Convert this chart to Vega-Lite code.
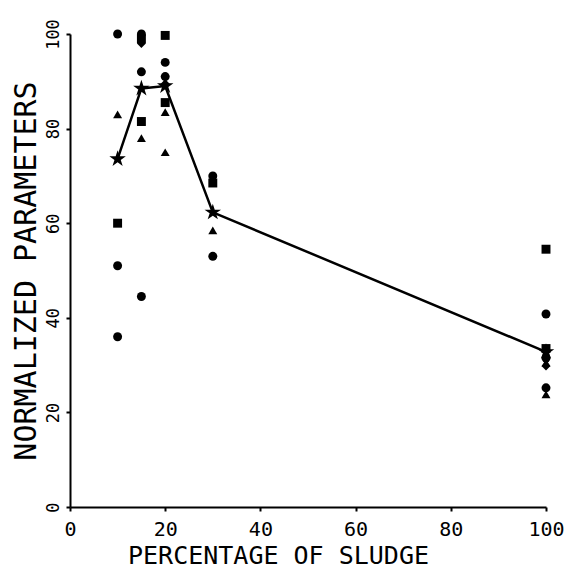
{
  "$schema": "https://vega.github.io/schema/vega-lite/v6.json",
  "width": 476,
  "height": 473,
  "autosize": "none",
  "padding": {"left": 70, "top": 34, "right": 31, "bottom": 61},
  "background": "white",
  "config": {
    "view": {"stroke": null},
    "font": "DejaVu Sans Mono"
  },
  "data": {
    "values": [
      {"pct": 10, "value": 100, "marker": "A"},
      {"pct": 10, "value": 83, "marker": "C"},
      {"pct": 10, "value": 73.6, "marker": "S"},
      {"pct": 10, "value": 60, "marker": "B"},
      {"pct": 10, "value": 51, "marker": "A"},
      {"pct": 10, "value": 36, "marker": "A"},
      {"pct": 15, "value": 100, "marker": "A"},
      {"pct": 15, "value": 99, "marker": "B"},
      {"pct": 15, "value": 98, "marker": "D"},
      {"pct": 15, "value": 92, "marker": "A"},
      {"pct": 15, "value": 88.5, "marker": "S"},
      {"pct": 15, "value": 81.5, "marker": "B"},
      {"pct": 15, "value": 78, "marker": "C"},
      {"pct": 15, "value": 44.5, "marker": "A"},
      {"pct": 20, "value": 99.7, "marker": "B"},
      {"pct": 20, "value": 94, "marker": "A"},
      {"pct": 20, "value": 91, "marker": "A"},
      {"pct": 20, "value": 89.5, "marker": "D"},
      {"pct": 20, "value": 89, "marker": "S"},
      {"pct": 20, "value": 85.5, "marker": "B"},
      {"pct": 20, "value": 83.5, "marker": "C"},
      {"pct": 20, "value": 75, "marker": "C"},
      {"pct": 30, "value": 70, "marker": "A"},
      {"pct": 30, "value": 68.5, "marker": "B"},
      {"pct": 30, "value": 62.3, "marker": "S"},
      {"pct": 30, "value": 58.5, "marker": "C"},
      {"pct": 30, "value": 53, "marker": "A"},
      {"pct": 100, "value": 54.5, "marker": "B"},
      {"pct": 100, "value": 40.8, "marker": "A"},
      {"pct": 100, "value": 33.5, "marker": "B"},
      {"pct": 100, "value": 32.8, "marker": "S"},
      {"pct": 100, "value": 31.5, "marker": "A"},
      {"pct": 100, "value": 30.5, "marker": "C"},
      {"pct": 100, "value": 29.8, "marker": "D"},
      {"pct": 100, "value": 25.2, "marker": "A"},
      {"pct": 100, "value": 23.8, "marker": "C"}
    ]
  },
  "encoding": {
    "x": {
      "field": "pct",
      "type": "quantitative",
      "scale": {"domain": [0, 100], "nice": false, "zero": false},
      "axis": {
        "orient": "bottom",
        "title": "PERCENTAGE OF SLUDGE",
        "values": [0, 20, 40, 60, 80, 100],
        "grid": false,
        "domainColor": "black",
        "domainWidth": 2,
        "tickColor": "black",
        "tickWidth": 2,
        "tickSize": 4,
        "labelFont": "DejaVu Sans Mono",
        "labelFontSize": 20,
        "labelColor": "black",
        "labelPadding": 8,
        "labelFlush": false,
        "titleFont": "DejaVu Sans Mono",
        "titleFontSize": 25,
        "titleFontWeight": "normal",
        "titleColor": "black",
        "titlePadding": 4,
        "titleX": 208
      }
    },
    "y": {
      "field": "value",
      "type": "quantitative",
      "scale": {"domain": [0, 100], "nice": false, "zero": false},
      "axis": {
        "orient": "left",
        "title": "NORMALIZED PARAMETERS",
        "values": [0, 20, 40, 60, 80, 100],
        "grid": false,
        "domainColor": "black",
        "domainWidth": 2,
        "tickColor": "black",
        "tickWidth": 2,
        "tickSize": 4,
        "labelFont": "DejaVu Sans Mono",
        "labelFontSize": 17,
        "labelColor": "black",
        "labelAngle": -90,
        "labelAlign": "center",
        "labelBaseline": "bottom",
        "labelPadding": 4,
        "labelFlush": false,
        "titleFont": "DejaVu Sans Mono",
        "titleFontSize": 30,
        "titleFontWeight": "normal",
        "titleColor": "black",
        "titlePadding": 3
      }
    }
  },
  "layer": [
    {
      "transform": [{"filter": "datum.marker == 'S'"}],
      "mark": {"type": "line", "color": "black", "strokeWidth": 2.5}
    },
    {
      "transform": [{"filter": "datum.marker != 'S'"}],
      "mark": {"type": "point", "filled": true, "color": "black", "opacity": 1, "size": 80},
      "encoding": {
        "shape": {
          "field": "marker",
          "type": "nominal",
          "scale": {"domain": ["A", "B", "C", "D"], "range": ["circle", "square", "triangle-up", "diamond"]},
          "legend": null
        }
      }
    },
    {
      "transform": [{"filter": "datum.marker == 'S'"}],
      "mark": {"type": "point", "filled": true, "color": "black", "opacity": 1, "size": 300, "shape": "M0,-1L0.2245,-0.309L0.951,-0.309L0.363,0.118L0.588,0.809L0,0.382L-0.588,0.809L-0.363,0.118L-0.951,-0.309L-0.2245,-0.309Z"}
    }
  ]
}
